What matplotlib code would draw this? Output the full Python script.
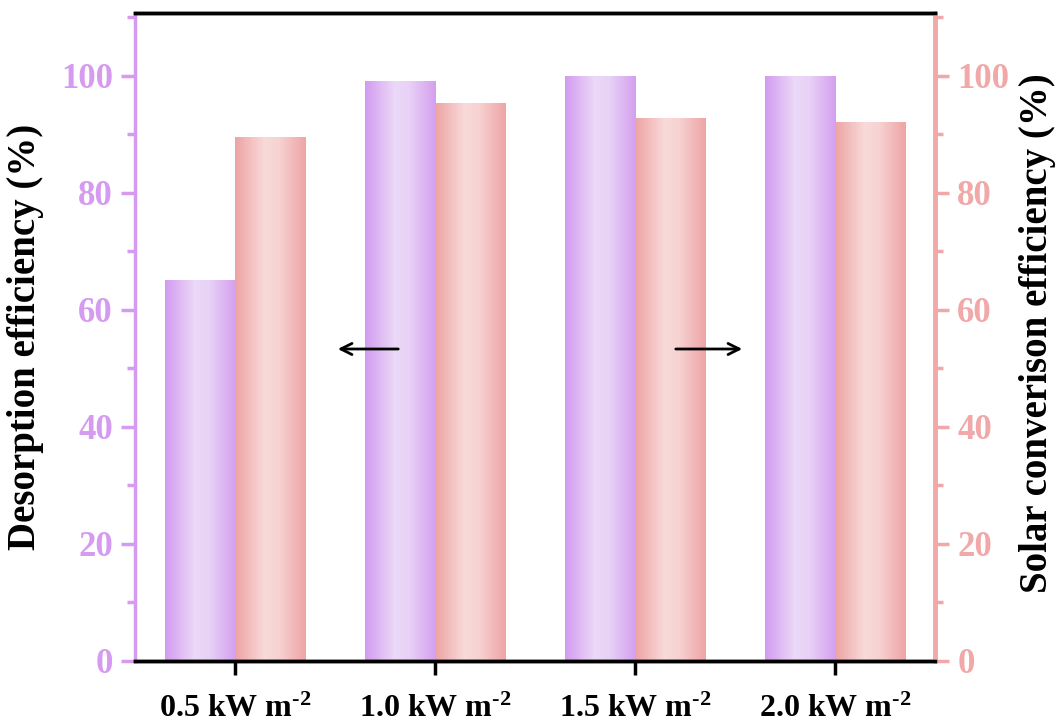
import numpy as np
import matplotlib
matplotlib.use("Agg")
import matplotlib.pyplot as plt
from matplotlib.colors import LinearSegmentedColormap
from matplotlib.ticker import MultipleLocator

categories = ["0.5", "1.0", "1.5", "2.0"]
desorption = [65.1, 99.1, 100.0, 100.0]
solar = [89.6, 95.4, 92.8, 92.1]

PURPLE_AX = "#D49BF0"
SALMON_AX = "#F0A8A8"

plt.rcParams["font.family"] = ["Liberation Serif", "DejaVu Serif"]
plt.rcParams["font.weight"] = "bold"
plt.rcParams["mathtext.fontset"] = "custom"
plt.rcParams["mathtext.rm"] = "Liberation Serif:bold"
plt.rcParams["mathtext.bf"] = "Liberation Serif:bold"
plt.rcParams["mathtext.default"] = "bf"

purple_cmap = LinearSegmentedColormap.from_list(
    "pur", [(0, "#D29CF0"), (0.42, "#ECD8F7"), (0.62, "#E8D2F6"), (1, "#D49FEF")])
salmon_cmap = LinearSegmentedColormap.from_list(
    "sal", [(0, "#EEA3A3"), (0.42, "#F9DADA"), (0.62, "#F7D2D2"), (1, "#EEA4A4")])


def gradient_bars(ax, x, heights, width, cmap):
    bars = ax.bar(x, heights, width, color="none", edgecolor="none", zorder=2)
    grad = np.linspace(0, 1, 256).reshape(1, -1)
    for b in bars:
        x0, y0 = b.get_x(), b.get_y()
        im = ax.imshow(grad, cmap=cmap, aspect="auto", zorder=2,
                       extent=[x0, x0 + b.get_width(), y0, y0 + b.get_height()])
        im.set_clip_path(b)
    return bars


fig = plt.figure(figsize=(10.63, 7.22), dpi=100)
ax = fig.add_axes([0.127, 0.0845, 0.7526, 0.8975])
ax2 = ax.twinx()

x = np.arange(len(categories))
w = 0.35
gradient_bars(ax, x - w / 2, desorption, w, purple_cmap)
gradient_bars(ax, x + w / 2, solar, w, salmon_cmap)

ax.set_xlim(-0.5, 3.5)
ax.set_ylim(0, 110.7)
ax2.set_ylim(0, 110.7)

ax.set_xticks(x)
ax.set_xticklabels([c + r" kW m$^{\text{-2}}$" for c in categories], fontsize=23)

for a in (ax, ax2):
    for s in a.spines.values():
        s.set_linewidth(2.5)
    a.spines["top"].set_color("black")
    a.spines["bottom"].set_color("black")
ax.spines["left"].set_color(PURPLE_AX)
ax2.spines["left"].set_visible(False)
ax2.spines["right"].set_color(SALMON_AX)

ax.yaxis.set_major_locator(MultipleLocator(20))
ax.yaxis.set_minor_locator(MultipleLocator(10))
ax2.yaxis.set_major_locator(MultipleLocator(20))
ax2.yaxis.set_minor_locator(MultipleLocator(10))

ax.tick_params(axis="y", which="major", colors=PURPLE_AX, length=10, width=2.5,
               labelsize=25, pad=6)
ax.tick_params(axis="y", which="minor", colors=PURPLE_AX, length=6, width=2.5)
ax2.tick_params(axis="y", which="major", colors=SALMON_AX, length=10, width=2.5,
                labelsize=25, pad=6)
ax2.tick_params(axis="y", which="minor", colors=SALMON_AX, length=6, width=2.5)
ax.tick_params(axis="x", which="major", length=10, width=2.5, pad=14, colors="black")

for lab in ax.get_yticklabels() + ax2.get_yticklabels():
    lab.set_fontweight("bold")

ax.set_ylabel("Desorption efficiency (%)", fontsize=28, fontweight="bold", labelpad=12)
ax2.set_ylabel("Solar converison efficiency (%)", fontsize=28, fontweight="bold",
               labelpad=7)
ax2.yaxis.label.set_y(0.506)

ax2.annotate("", xy=(0.5, 53.3), xytext=(0.83, 53.3),
             arrowprops=dict(arrowstyle="->", color="black", lw=2, mutation_scale=20),
             zorder=5)
ax2.annotate("", xy=(2.55, 53.3), xytext=(2.19, 53.3),
             arrowprops=dict(arrowstyle="->", color="black", lw=2, mutation_scale=20),
             zorder=5)

fig.savefig("out.png", dpi=100)
